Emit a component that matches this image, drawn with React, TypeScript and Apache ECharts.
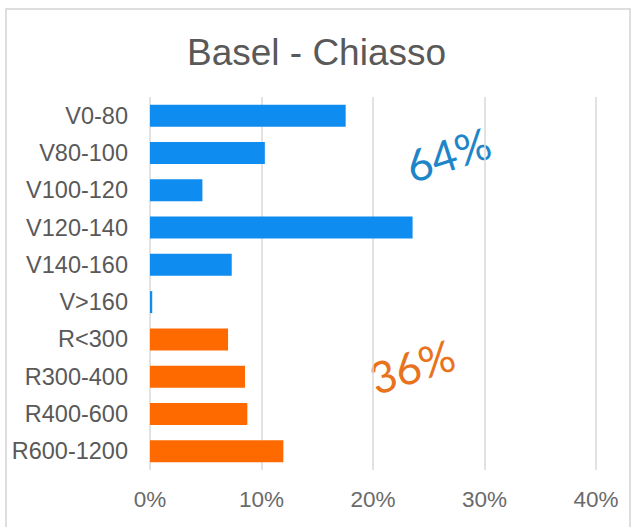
import React, { useEffect, useRef } from "react";
import * as echarts from "echarts";

const categories = [
  "V0-80",
  "V80-100",
  "V100-120",
  "V120-140",
  "V140-160",
  "V>160",
  "R<300",
  "R300-400",
  "R400-600",
  "R600-1200",
];
const shares = [0.1755, 0.103, 0.047, 0.2355, 0.0733, 0.002, 0.07, 0.0852, 0.0873, 0.1196];
const xTicks = [0, 0.1, 0.2, 0.3, 0.4];
const titleText = "Basel - Chiasso";
const groupLabels = ["64%", "36%"];

const BLUE = "#0F8CF0";
const ORANGE = "#FF6A00";

export default function App() {
  const ref = useRef<HTMLDivElement>(null);
  useEffect(() => {
    if (!ref.current) return;
    const chart = echarts.init(ref.current, undefined, { renderer: "svg" });
    const font = "'Liberation Sans', Arial, sans-serif";
    chart.setOption({
      animation: false,
      backgroundColor: "#ffffff",
      title: {
        text: titleText,
        left: "center",
        top: 29,
        textStyle: { fontFamily: font, fontSize: 37, fontWeight: "normal", color: "#595959" },
      },
      grid: { left: 150, right: 37, top: 97, bottom: 57 },
      xAxis: {
        type: "value",
        min: xTicks[0],
        max: xTicks[xTicks.length - 1],
        interval: 0.1,
        axisLine: { show: false },
        axisTick: { show: false },
        splitLine: { show: true, lineStyle: { color: "#d9d9d9", width: 1.5 } },
        axisLabel: {
          fontFamily: font,
          fontSize: 22.5,
          color: "#6a6a6a",
          margin: 18,
          formatter: (v: number) => Math.round(v * 100) + "%",
        },
      },
      yAxis: {
        type: "category",
        data: categories,
        inverse: true,
        axisLine: { show: false },
        axisTick: { show: false },
        axisLabel: { fontFamily: font, fontSize: 23.5, color: "#595959", margin: 22 },
      },
      series: [
        {
          type: "bar",
          barWidth: 22,
          data: shares.map((v, i) => ({
            value: v,
            itemStyle: { color: categories[i].startsWith("V") ? BLUE : ORANGE },
          })),
        },
      ],
      graphic: [
        {
          type: "rect",
          shape: { x: 6, y: 9, width: 624, height: 540 },
          style: { fill: "none", stroke: "#d4d4d4", lineWidth: 1.5 },
          silent: true,
        },
        {
          type: "text",
          x: 448,
          y: 154,
          rotation: (18 * Math.PI) / 180,
          style: {
            text: groupLabels[0],
            fontFamily: "Lato, sans-serif",
            fontWeight: "normal",
            fontSize: 44,
            fill: "#1E86C8",
            align: "center",
            verticalAlign: "middle",
          },
        },
        {
          type: "text",
          x: 412,
          y: 366,
          rotation: (18 * Math.PI) / 180,
          style: {
            text: groupLabels[1],
            fontFamily: "Lato, sans-serif",
            fontWeight: "normal",
            fontSize: 44,
            fill: "#E8731E",
            align: "center",
            verticalAlign: "middle",
          },
        },
      ],
    });
    return () => chart.dispose();
  }, []);
  return <div ref={ref} style={{ width: 633, height: 527, position: "absolute", left: 0, top: 0 }} />;
}
